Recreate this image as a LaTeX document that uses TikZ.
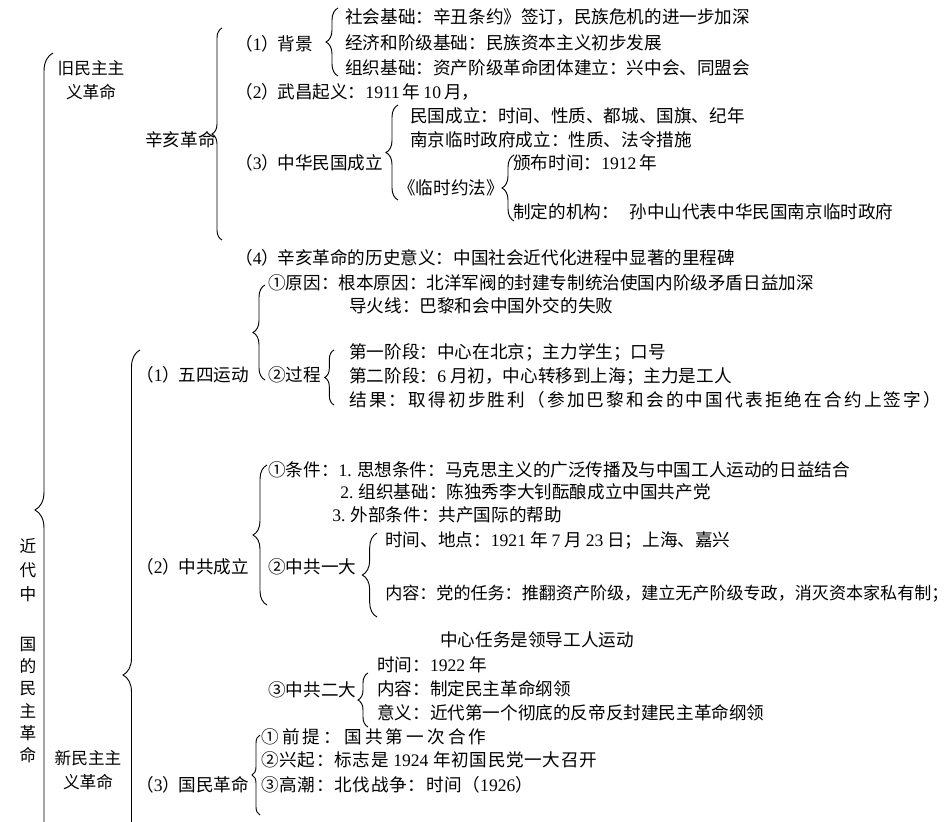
\documentclass[tikz,border=0pt]{standalone}
\usepackage{fontspec}
\newfontfamily\cjk{Noto Sans CJK SC}
\newfontfamily\numf{Liberation Serif}
\newcommand\dg[1]{{\numf #1}}
\newcommand\pn[1]{\hspace{-0.4em}（\dg{#1}）\hspace{-0.1em}}
\usetikzlibrary{decorations.pathreplacing}

\tikzset{
  item/.style={anchor=west,inner sep=0pt,font=\cjk\fontsize{13.2}{16}\selectfont},
  itemwide/.style={item,font=\cjk\fontsize{13.2}{16}\selectfont\addfontfeature{LetterSpace=#1}},
  vlabel/.style={inner sep=0pt,align=center,font=\cjk\fontsize{12.5}{18}\selectfont},
  curly/.style={decorate,decoration={brace,amplitude=#1},line width=0.7pt}
}

\begin{document}
\begin{tikzpicture}[x=0.75pt,y=-0.75pt]
\useasboundingbox (0,0) rectangle (948,821);
\clip (0,0) rectangle (948,821);

% braces: x / lower end / upper end / amplitude
\foreach \x/\lo/\hi/\amp in {53/967/53/13.5pt,140/1000/350/12.75pt,222/240/28/7.5pt,
  338/76/8/9pt,398/200/105/9pt,514/221/155/9pt,265/380/285/9pt,334/405/350/7pt,
  267/605/465/10.5pt,377/617/533/11pt,368/727/673/7.5pt,260/815/735/6pt}
\draw[curly=\amp] (\x,\lo) -- (\x,\hi);

\node[vlabel] (jindai) at (28,570) {近\\代\\中};
\node[vlabel,font=\cjk\fontsize{12.5}{16.6}\selectfont] (minzhu) at (28,700) {国\\的\\民\\主\\革\\命};
\node[vlabel] (jiu) at (91,80) {旧民主主\\义革命};
\node[vlabel] (xin) at (88,770) {新民主主\\义革命};

% old democratic revolution
\node[item] (xh) at (145,140) {辛亥革命};
\node[item] (bj) at (242,44) {\pn{1}背景};
\node[item] (bj1) at (345,17) {社会基础：辛丑条约》签订，民族危机的进一步加深};
\node[item] (bj2) at (345,43) {经济和阶级基础：民族资本主义初步发展};
\node[item] (bj3) at (345,68) {组织基础：资产阶级革命团体建立：兴中会、同盟会};
\node[item] (wc) at (242,92) {\pn{2}武昌起义：\dg{1911}\,年\,\dg{10}\,月，};
\node[item] (mg1) at (410,116) {民国成立：时间、性质、都城、国旗、纪年};
\node[item] (mg2) at (410,140) {南京临时政府成立：性质、法令措施};
\node[item] (mg) at (242,163) {\pn{3}中华民国成立};
\node[item] (yf) at (398,188) {《临时约法》};
\node[item] (yf1) at (513,163) {颁布时间：\dg{1912}\,年};
\node[item] (yf2) at (513,212) {制定的机构：\hspace{0.6em}孙中山代表中华民国南京临时政府};
\node[item] (yy) at (242,258) {\pn{4}辛亥革命的历史意义：中国社会近代化进程中显著的里程碑};

% new democratic revolution
\node[item] (ws) at (143,375) {\pn{1}五四运动};
\node[item] (ws1) at (268,283) {①原因：根本原因：北洋军阀的封建专制统治使国内阶级矛盾日益加深};
\node[item] (ws2) at (349,306) {导火线：巴黎和会中国外交的失败};
\node[item] (gc) at (268,375) {②过程};
\node[item] (gc1) at (349,352) {第一阶段：中心在北京；主力学生；口号};
\node[item] (gc2) at (349,376) {第二阶段：\dg{6} 月初，中心转移到上海；主力是工人};
\node[itemwide=12.5] (gc3) at (349,400) {结果：取得初步胜利（参加巴黎和会的中国代表拒绝在合约上签字）};

\node[item] (zg) at (143,567) {\pn{2}中共成立};
\node[item] (tj1) at (268,470) {①条件：\dg{1.} 思想条件：马克思主义的广泛传播及与中国工人运动的日益结合};
\node[item] (tj2) at (340,492) {\dg{2.} 组织基础：陈独秀李大钊酝酿成立中国共产党};
\node[item] (tj3) at (332,515) {\dg{3.} 外部条件：共产国际的帮助};
\node[item] (yd) at (268,567) {②中共一大};
\node[item] (yd1) at (385,540) {时间、地点：\dg{1921} 年 \dg{7} 月 \dg{23} 日；上海、嘉兴};
\node[item,font=\cjk\fontsize{12.8}{16}\selectfont] (yd2) at (385,594) {内容：党的任务：推翻资产阶级，建立无产阶级专政，消灭资本家私有制；};
\node[item] (yd3) at (440,640) {中心任务是领导工人运动};
\node[item] (ed) at (268,690) {③中共二大};
\node[item] (ed1) at (377,665) {时间：\dg{1922} 年};
\node[item] (ed2) at (377,689) {内容：制定民主革命纲领};
\node[item] (ed3) at (377,713) {意义：近代第一个彻底的反帝反封建民主革命纲领};

\node[item] (gm) at (143,785) {\pn{3}国民革命};
\node[itemwide=18] (gm1) at (261,737) {①前提：国共第一次合作};
\node[itemwide=4] (gm2) at (261,760) {②兴起：标志是 \dg{1924} 年初国民党一大召开};
\node[itemwide=4] (gm3) at (261,785) {③高潮：北伐战争：时间（\dg{1926}）};
\end{tikzpicture}
\end{document}
